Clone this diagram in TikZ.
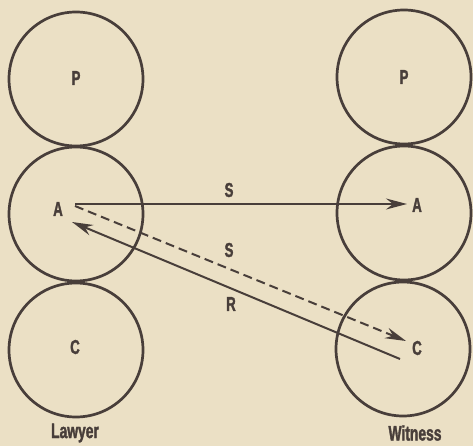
\documentclass[tikz,border=0pt]{standalone}
\usepackage{fontspec}
\newfontfamily\labfont{Liberation Sans}[FakeStretch=0.66,BoldFeatures={FakeBold=1.6}]
\usetikzlibrary{arrows.meta}
\definecolor{paper}{RGB}{235,224,197}
\definecolor{ink}{RGB}{72,62,58}
\tikzset{
  ball/.style={circle,draw=ink,line width=2.7pt,minimum size=134pt,inner sep=0pt},
  letter/.style={text=ink,font=\labfont\bfseries\fontsize{20}{20}\selectfont,inner sep=0pt},
  caption/.style={text=ink,font=\labfont\bfseries\fontsize{21}{21}\selectfont,inner sep=0pt},
  msg/.style={draw=ink,line width=2pt,-{Stealth[length=21pt,width=11pt,inset=7pt]}},
  dashmsg/.style={msg,dash pattern=on 9pt off 5pt},
}
\begin{document}
\begin{tikzpicture}[x=1pt,y=-1pt]
\fill[paper] (0,0) rectangle (473,446);
\useasboundingbox (0,0) rectangle (473,446);
% lawyer
\node[ball] (LP) at (76,79) {};
\node[ball] (LA) at (76,214) {};
\node[ball] (LC) at (76,350) {};
% witness
\node[ball] (WP) at (404,77) {};
\node[ball] (WA) at (404,213) {};
\node[ball] (WC) at (403,349) {};
% letters
\node[letter] (lp) at (76,78) {P};
\node[letter] (la) at (58,209) {A};
\node[letter] (lc) at (75,347) {C};
\node[letter] (wp) at (404,77) {P};
\node[letter] (wa) at (417,205) {A};
\node[letter] (wc) at (417,348) {C};
\node[caption] (law) at (75,433) {Lawyer};
\node[caption] (wit) at (415,433) {Witness};
% message labels
\node[letter] (s1) at (229,190) {S};
\node[letter] (s2) at (229,250) {S};
\node[letter] (r) at (231,304) {R};
% connector ends
\coordinate (a1) at (75,204);
\coordinate (b1) at (407,204);
\coordinate (a2) at (75,206);
\coordinate (b2) at (406,341);
\coordinate (a3) at (400,359);
\coordinate (b3) at (72,222);
\draw[msg] (a1) -- (b1);
\draw[dashmsg] (a2) -- (b2);
\draw[msg] (a3) -- (b3);
\end{tikzpicture}
\end{document}
